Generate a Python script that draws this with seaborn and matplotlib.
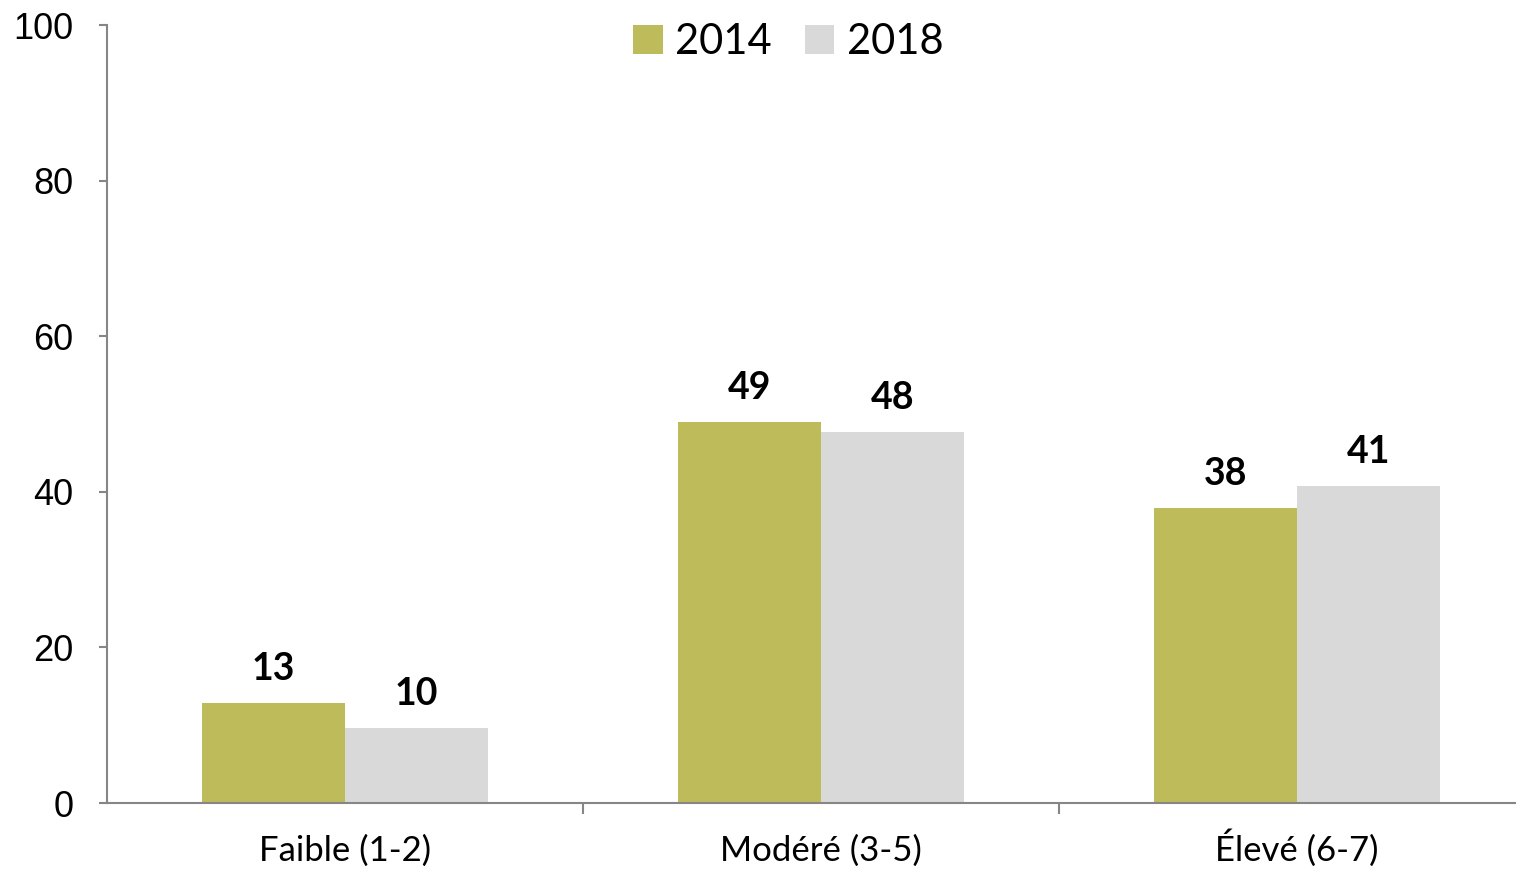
import numpy as np
import pandas as pd
import matplotlib.pyplot as plt
import seaborn as sns

categories = ["Faible (1-2)", "Modéré (3-5)", "Élevé (6-7)"]
years = ["2014", "2018"]
values_2014 = [12.9, 49.0, 37.9]
values_2018 = [9.7, 47.7, 40.8]
labels_2014 = ["13", "49", "38"]
labels_2018 = ["10", "48", "41"]

df = pd.DataFrame({
    "categorie": categories * 2,
    "annee": [years[0]] * 3 + [years[1]] * 3,
    "valeur": values_2014 + values_2018,
})

sns.set_style("white")
plt.rcParams["font.family"] = ["Lato", "DejaVu Sans"]

fig = plt.figure(figsize=(15.16, 8.72), dpi=100)
# axes runs a bit past the right edge, like the original
ax = fig.add_axes([0.0703, 0.0791, 0.9423, 0.8922])

palette = {"2014": "#BDBB5A", "2018": "#D9D9D9"}
sns.barplot(data=df, x="categorie", y="valeur", hue="annee", palette=palette,
            width=0.6, saturation=1, linewidth=0, ax=ax)

for cont, labs in zip(ax.containers, [labels_2014, labels_2018]):
    ax.bar_label(cont, labels=labs, padding=12, fontsize=27, fontweight="bold",
                 color="black")

ax.set_xlim(-0.5, 2.5)
ax.set_ylim(0, 100)
ax.set_yticks([0, 20, 40, 60, 80, 100])
ax.set_xlabel("")
ax.set_ylabel("")

for s in ["top", "right"]:
    ax.spines[s].set_visible(False)
for s in ["left", "bottom"]:
    ax.spines[s].set_color("#868686")
    ax.spines[s].set_linewidth(1.5)

ax.tick_params(axis="y", left=True, length=6, width=1.5, color="#868686",
               pad=18, labelsize=26, labelcolor="black")
for t in ax.get_yticklabels():
    t.set_fontfamily("Liberation Sans")
ax.tick_params(axis="x", which="major", bottom=False, length=0, pad=42,
               labelsize=25, labelcolor="black")
for t in ax.get_xticklabels():
    t.set_verticalalignment("baseline")
ax.set_xticks([0.5, 1.5], minor=True)
ax.tick_params(axis="x", which="minor", bottom=True, length=8, width=1.5,
               color="#868686")

leg = ax.legend(loc="center", bbox_to_anchor=(0.52, 0.952), bbox_transform=fig.transFigure,
                ncol=2, frameon=False, fontsize=30, handlelength=0.7, handleheight=0.7,
                handletextpad=0.3, columnspacing=0.8)
for t in leg.get_texts():
    t.set_color("black")

fig.savefig("out.png", dpi=100)
